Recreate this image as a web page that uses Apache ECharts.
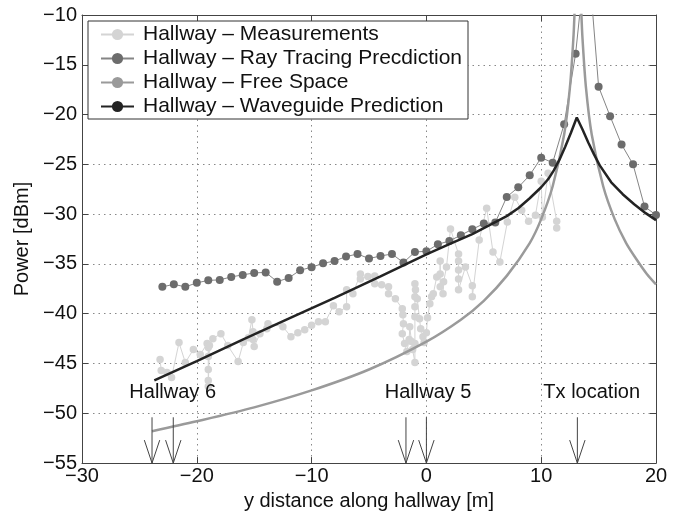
<!DOCTYPE html>
<html>
<head>
<meta charset="utf-8">
<script src="https://cdn.jsdelivr.net/npm/echarts@6/dist/echarts.min.js"></script>
<style>html,body{margin:0;padding:0;background:#fff}#c{width:677px;height:516px}</style>
</head>
<body>
<div id="c"></div>
<script>
// ---- Data ----
const seriesNames = ['Hallway \u2013 Measurements', 'Hallway \u2013 Ray Tracing Precdiction', 'Hallway \u2013 Free Space', 'Hallway \u2013 Waveguide Prediction'];

const measX = [-23.2,-23.1,-22.6,-22.2,-21.55,-21.0,-20.3,-19.7,-19.1,-19.0,-19.0,-19.0,-19.0,-19.0,-18.9,-18.6,-17.9,-17.3,-16.4,-15.95,-15.5,-15.2,-15.1,-15.1,-15.0,-14.5,-13.9,-13.8,-12.5,-11.8,-11.2,-10.6,-10.0,-9.4,-8.8,-8.1,-7.6,-6.95,-6.95,-6.4,-5.75,-5.75,-5.1,-4.5,-4.5,-3.9,-3.3,-3.3,-2.7,-2.1,-2.05,-2.0,-2.1,-1.9,-1.7,-1.5,-1.45,-1.3,-1.2,-1.0,-1.0,-1.0,-1.0,-1.0,-0.95,-1.0,-0.8,-0.6,-0.5,-0.3,-0.2,0.0,0.1,0.3,0.45,0.6,0.9,1.2,1.2,1.2,1.45,1.5,1.75,2.1,2.8,2.8,2.8,2.8,2.8,3.4,4.0,4.0,4.6,5.25,5.8,6.4,7.05,7.7,8.3,8.9,9.5,10.0,10.1,10.6,11.35,11.35];
const measY = [-44.6,-45.7,-45.9,-46.4,-42.9,-44.9,-43.6,-44.1,-43.0,-43.4,-44.3,-45.6,-46.7,-47.3,-43.2,-42.5,-42.0,-43.2,-44.8,-42.9,-42.4,-40.6,-41.8,-42.6,-43.3,-42.0,-41.5,-41.0,-41.3,-42.3,-41.9,-41.6,-41.15,-40.8,-40.8,-39.2,-39.8,-39.3,-37.6,-38.0,-36.0,-36.5,-36.25,-36.2,-37.0,-37.1,-37.3,-38.0,-38.5,-39.5,-40.1,-41.0,-42.0,-43.0,-43.8,-42.6,-41.3,-42.8,-43.6,-44.9,-43.0,-40.3,-39.3,-38.3,-37.6,-37.0,-38.5,-40.5,-41.5,-42.3,-42.9,-41.9,-40.4,-39.0,-38.3,-38.0,-36.3,-36.0,-34.7,-37.3,-38.0,-36.8,-35.3,-31.5,-34.0,-34.7,-35.6,-36.5,-37.6,-35.3,-37.2,-38.3,-32.6,-29.4,-33.8,-34.8,-30.8,-28.3,-29.6,-30.7,-30.1,-26.7,-30.3,-25.9,-30.7,-31.4];

const rtX = [-23,-22,-21,-20,-19,-18,-17,-16,-15,-14,-13,-12,-11,-10,-9,-8,-7,-6,-5,-4,-3,-2,-1,0,1,2,3,4,5,6,7,8,9,10,11,12,13,14,15,16,17,18,19,20];
const rtY = [-37.3,-37.05,-37.3,-36.9,-36.65,-36.6,-36.3,-36.1,-35.9,-35.85,-36.78,-36.41,-35.63,-35.33,-34.94,-34.7,-34.26,-34.0,-34.46,-34.2,-34.0,-34.86,-33.8,-33.73,-33.03,-32.69,-32.11,-31.52,-30.95,-30.85,-28.27,-27.31,-26.09,-24.33,-24.83,-20.96,-13.88,-2.8,-17.2,-20.16,-23.0,-25.0,-29.23,-30.09];

const fsX = [-23.9,-20,-15,-10,-5,0,3,5,7,9,10,11,12,12.5,12.8,12.9,13.0,13.4,13.5,13.6,13.9,14.4,15.4,16.4,17.4,18.4,19.2,20];
const fsY = [-51.8,-50.8,-49.4,-47.7,-45.6,-42.8,-40.6,-38.7,-36.2,-32.9,-30.5,-27.2,-22.0,-17.3,-12.4,-9.9,-6.4,-6.4,-9.9,-12.4,-17.3,-22.0,-27.2,-30.5,-32.9,-34.7,-36.0,-37.05];

const wgX = [-23.7,-20,-16,-12,-8,-4,0,2,4,5.5,7,8,9,10,10.6,11.1,11.6,12.1,12.6,13.1,13.6,14.1,14.6,15.1,16.1,17.1,18.1,19.1,20];
const wgY = [-46.7,-44.75,-42.6,-40.5,-38.4,-36.25,-34.05,-33.0,-32.0,-31.1,-30.2,-29.4,-28.4,-27.3,-26.5,-25.6,-24.5,-23.2,-21.8,-20.3,-21.5,-22.8,-24.0,-25.1,-26.8,-28.0,-29.0,-29.9,-30.6];

const arrowX = [-23.9, -22.05, -1.78, 0, 13.15];
const noteText = ['Hallway 6', 'Hallway 5', 'Tx location'];
const noteX = [-22.1, 0.15, 14.4];

const xTicks = {min: -30, max: 20, interval: 10};
const yTicks = {min: -55, max: -10, interval: 5};

// ---- Chart ----
const FONT = "'Liberation Sans', Arial, Helvetica, sans-serif";
const zip = (a, b) => a.map((v, i) => [v, b[i]]);
const minus = v => String(v).replace('-', '\u2212');

const chart = echarts.init(document.getElementById('c'), null, {renderer: 'canvas'});

const axisCommon = {
  axisLine: {show: true, onZero: false, lineStyle: {color: '#444', width: 1}},
  axisTick: {show: true, inside: true, length: 6, lineStyle: {color: '#444'}},
};

chart.setOption({
  animation: false,
  backgroundColor: '#fff',
  grid: {left: 82, right: 21, top: 15, bottom: 48, containLabel: false},
  legend: {
    data: seriesNames,
    orient: 'vertical',
    left: 88, top: 21,
    backgroundColor: '#fff',
    borderColor: '#333', borderWidth: 1, borderRadius: 0,
    padding: [3, 6, 2, 12],
    itemGap: 3, itemWidth: 33, itemHeight: 14,
    textStyle: {fontSize: 21, fontFamily: FONT, color: '#111', lineHeight: 21, padding: [0, 0, 0, 4]},
    selectedMode: false
  },
  xAxis: [
    Object.assign({type: 'value', min: xTicks.min, max: xTicks.max, interval: xTicks.interval,
      name: 'y distance along hallway [m]', nameLocation: 'middle', nameGap: 23,
      nameTextStyle: {fontSize: 20, fontFamily: FONT, color: '#111'},
      axisLabel: {fontSize: 20, fontFamily: FONT, color: '#111', margin: 3, formatter: minus},
      splitLine: {show: true, lineStyle: {type: [1.5, 4], color: '#888', width: 1}}
    }, axisCommon),
    Object.assign({type: 'value', position: 'top', min: xTicks.min, max: xTicks.max, interval: xTicks.interval,
      axisLabel: {show: false}, splitLine: {show: false}}, axisCommon)
  ],
  yAxis: [
    Object.assign({type: 'value', min: yTicks.min, max: yTicks.max, interval: yTicks.interval,
      name: 'Power [dBm]', nameLocation: 'middle', nameGap: 45,
      nameTextStyle: {fontSize: 20, fontFamily: FONT, color: '#111'},
      axisLabel: {fontSize: 20, fontFamily: FONT, color: '#111', margin: 5, formatter: minus},
      splitLine: {show: true, lineStyle: {type: [1.5, 4], color: '#888', width: 1}}
    }, axisCommon),
    Object.assign({type: 'value', position: 'right', min: yTicks.min, max: yTicks.max, interval: yTicks.interval,
      axisLabel: {show: false}, splitLine: {show: false}}, axisCommon)
  ],
  series: [
    {name: seriesNames[0], type: 'line', data: zip(measX, measY),
      symbol: 'circle', symbolSize: 7.5, showSymbol: true,
      lineStyle: {color: '#d4d4d4', width: 1}, itemStyle: {color: '#d4d4d4'}, z: 2},
    {name: seriesNames[1], type: 'line', data: zip(rtX, rtY),
      symbol: 'circle', symbolSize: 8, showSymbol: true,
      lineStyle: {color: '#858585', width: 1}, itemStyle: {color: '#6c6c6c'}, z: 3},
    {name: seriesNames[2], type: 'line', data: zip(fsX, fsY), smooth: 0.3,
      symbol: 'none', lineStyle: {color: '#9a9a9a', width: 2.5}, itemStyle: {color: '#9a9a9a'}, z: 4},
    {name: seriesNames[3], type: 'line', data: zip(wgX, wgY),
      symbol: 'none', lineStyle: {color: '#232323', width: 2.5}, itemStyle: {color: '#232323'}, z: 5},
    {type: 'custom', name: 'arrows', data: arrowX.map(x => [x]), clip: false, z: 6,
      renderItem: (params, api) => {
        const x = api.value(0);
        const p0 = api.coord([x, -50.4]);
        const p1 = api.coord([x, -55]);
        return {type: 'group', children: [
          {type: 'line', shape: {x1: p0[0], y1: p0[1], x2: p1[0], y2: p1[1]}, style: {stroke: '#444', lineWidth: 1}},
          {type: 'polyline', shape: {points: [[p1[0] - 7.7, p1[1] - 23], [p1[0], p1[1]], [p1[0] + 7.7, p1[1] - 23]]}, style: {stroke: '#444', lineWidth: 1, fill: null}}
        ]};
      }},
    {type: 'custom', name: 'notes', data: noteX.map((x, i) => [x, i]), clip: false, z: 6,
      renderItem: (params, api) => {
        const p = api.coord([api.value(0), -47.93]);
        return {type: 'text', style: {text: noteText[api.value(1)], x: p[0], y: p[1],
          font: '20px ' + FONT, fill: '#111', align: 'center', verticalAlign: 'middle'}};
      }}
  ]
});
</script>
</body>
</html>
